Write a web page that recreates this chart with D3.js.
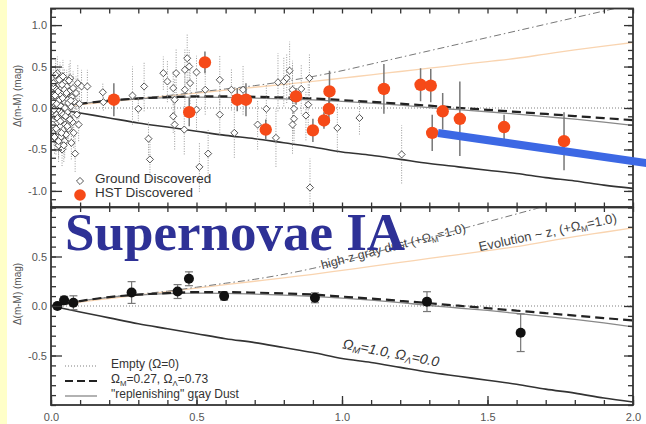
<!DOCTYPE html>
<html>
<head>
<meta charset="utf-8">
<script src="https://cdn.jsdelivr.net/npm/d3@7"></script>
<style>
  body { margin: 0; background: #fff; }
  svg { display: block; }
</style>
</head>
<body>
<svg id="chart" width="646" height="424"></svg>
<script>
// model curves (redshift vs delta distance modulus)
const modelZ      = [0, 0.1, 0.2, 0.3, 0.4, 0.5, 0.6, 0.7, 0.8, 0.9, 1.0, 1.1, 1.2, 1.3, 1.4, 1.5, 1.6, 1.7, 1.8, 1.9, 2.0];
const lambdaDM    = [0, 0.05, 0.09, 0.115, 0.13, 0.14, 0.14, 0.135, 0.127, 0.116, 0.095, 0.075, 0.052, 0.028, 0.003, -0.022, -0.047, -0.072, -0.097, -0.122, -0.146];
const replenishDM = [0, 0.05, 0.088, 0.11, 0.125, 0.13, 0.128, 0.12, 0.11, 0.097, 0.08, 0.06, 0.035, 0.005, -0.02, -0.045, -0.075, -0.105, -0.135, -0.17, -0.21];
const matterDM    = [0, -0.06, -0.12, -0.18, -0.23, -0.28, -0.33, -0.37, -0.42, -0.47, -0.53, -0.57, -0.62, -0.67, -0.71, -0.75, -0.79, -0.84, -0.88, -0.93, -0.97];
const grayDustDM  = [0, 0.05, 0.09, 0.12, 0.15, 0.19, 0.23, 0.27, 0.32, 0.38, 0.45, 0.53, 0.61, 0.69, 0.77, 0.85, 0.93, 1.01, 1.09, 1.17, 1.25];
const evolutionDM = [0, 0.04, 0.075, 0.11, 0.145, 0.18, 0.215, 0.25, 0.285, 0.32, 0.36, 0.40, 0.44, 0.48, 0.52, 0.56, 0.60, 0.65, 0.70, 0.745, 0.79];

// ground discovered SNe (open diamonds)
const groundZ = [0.005, 0.006, 0.007, 0.008, 0.009, 0.010, 0.011, 0.012, 0.013, 0.014, 0.015, 0.016, 0.017, 0.018, 0.019, 0.020,
  0.021, 0.022, 0.023, 0.024, 0.025, 0.026, 0.027, 0.028, 0.029, 0.030, 0.031, 0.032, 0.033, 0.034, 0.035, 0.036, 0.037, 0.038,
  0.039, 0.040, 0.041, 0.042, 0.043, 0.044, 0.045, 0.046, 0.047, 0.048, 0.049, 0.050, 0.052, 0.054, 0.056, 0.058, 0.060, 0.062,
  0.064, 0.066, 0.068, 0.070, 0.072, 0.074, 0.076, 0.078, 0.080, 0.083, 0.086, 0.089, 0.092, 0.095, 0.098,
  0.004, 0.006, 0.008, 0.010, 0.012, 0.014, 0.016, 0.018, 0.020, 0.022, 0.024, 0.026, 0.028, 0.030, 0.032, 0.034, 0.036,
  0.038, 0.040, 0.042, 0.044, 0.046, 0.048, 0.050, 0.053, 0.056, 0.059, 0.062, 0.065, 0.068,
  0.105, 0.125, 0.178, 0.18, 0.28, 0.30, 0.32, 0.335, 0.34, 0.386, 0.40, 0.43, 0.42, 0.425, 0.42, 0.425, 0.46, 0.468, 0.475,
  0.46, 0.478, 0.458, 0.50, 0.50, 0.53, 0.54, 0.51, 0.58, 0.58, 0.62, 0.63, 0.66, 0.71, 0.74, 0.773, 0.78, 0.80, 0.81, 0.82,
  0.83, 0.83, 0.835, 0.835, 0.83, 0.86, 0.876, 0.884, 0.888, 0.89, 0.984, 1.06, 1.205];
const groundDM = [0.02, -0.05, 0.12, -0.15, 0.25, -0.3, 0.05, -0.1, 0.18, -0.22, 0.32, 0.0, -0.38, 0.1, -0.08, 0.22,
  -0.18, 0.42, 0.03, -0.28, 0.14, -0.45, 0.08, -0.12, 0.28, -0.03, 0.35, -0.22, 0.16, -0.35, 0.06, -0.06, 0.24, -0.5,
  0.11, -0.15, 0.38, 0.01, -0.26, 0.19, -0.09, 0.3, -0.4, 0.07, -0.2, 0.15, -0.32, 0.26, -0.05, 0.1, -0.25, 0.2,
  -0.12, 0.36, 0.02, -0.42, 0.13, -0.17, 0.24, -0.3, 0.08, -0.55, 0.18, -0.08, 0.3, -0.2, 0.05,
  0.08, -0.2, 0.3, -0.02, -0.35, 0.15, 0.4, -0.25, 0.05, -0.12, 0.2, -0.4, 0.34, 0.1, -0.16, 0.02, -0.3,
  0.28, 0.12, -0.08, -0.45, 0.22, 0.0, -0.1, 0.18, -0.22, 0.06, 0.33, -0.14, 0.09,
  0.26, 0.26, 0.19, 0.07, 0.15, -0.01, 0.26, -0.37, -0.62, 0.42, 0.32, 0.42, 0.24, 0.10, -0.10, -0.20, 0.46, 0.60, 0.50,
  0.22, 0.30, -0.26, 0.43, -0.02, 0.22, -0.55, -0.71, 0.34, -0.08, 0.22, -0.30, 0.22, -0.20, -0.01, -0.36, 0.31, 0.32, 0.36, 0.45,
  0.22, 0.12, -0.01, -0.13, -0.2, 0.23, -0.09, 0.04, 0.36, -0.96, -0.24, -0.12, -0.56];
const groundErr = [0.1, 0.12, 0.15, 0.1, 0.18, 0.15, 0.1, 0.12, 0.15, 0.14, 0.2, 0.1, 0.18, 0.12, 0.1, 0.16,
  0.14, 0.2, 0.1, 0.16, 0.12, 0.2, 0.1, 0.14, 0.18, 0.1, 0.2, 0.15, 0.12, 0.18, 0.1, 0.12, 0.16, 0.2,
  0.12, 0.14, 0.2, 0.1, 0.16, 0.14, 0.12, 0.18, 0.2, 0.1, 0.15, 0.14, 0.18, 0.2, 0.12, 0.14, 0.18, 0.2,
  0.14, 0.22, 0.12, 0.2, 0.15, 0.16, 0.2, 0.18, 0.15, 0.22, 0.2, 0.15, 0.22, 0.2, 0.16,
  0.12, 0.15, 0.18, 0.1, 0.2, 0.14, 0.2, 0.16, 0.1, 0.12, 0.15, 0.2, 0.18, 0.12, 0.14, 0.1, 0.18,
  0.16, 0.12, 0.1, 0.2, 0.15, 0.12, 0.14, 0.16, 0.15, 0.12, 0.2, 0.14, 0.12,
  0.2, 0.2, 0.12, 0.1, 0.35, 0.15, 0.3, 0.2, 0.25, 0.2, 0.25, 0.3, 0.2, 0.25, 0.2, 0.3, 0.25, 0.3, 0.2,
  0.3, 0.25, 0.3, 0.2, 0.25, 0.3, 0.3, 0.3, 0.3, 0.25, 0.25, 0.3, 0.3, 0.3, 0.3, 0.35, 0.35, 0.3, 0.3, 0.35,
  0.35, 0.4, 0.3, 0.3, 0.35, 0.3, 0.3, 0.25, 0.3, 0.35, 0.3, 0.2, 0.35];

// HST discovered SNe (filled orange)
const hstZ   = [0.216, 0.475, 0.529, 0.64, 0.67, 0.738, 0.842, 0.90, 0.938, 0.955, 0.957, 1.144, 1.27, 1.305, 1.346, 1.31, 1.405, 1.557, 1.763];
const hstDM  = [0.10, -0.05, 0.55, 0.10, 0.10, -0.26, 0.14, -0.27, -0.15, -0.01, 0.20, 0.23, 0.28, 0.27, -0.04, -0.30, -0.13, -0.23, -0.40];
const hstErr = [0.2, 0.17, 0.13, 0.14, 0.2, 0.12, 0.1, 0.14, 0.1, 0.17, 0.25, 0.3, 0.2, 0.2, 0.22, 0.22, 0.45, 0.15, 0.35];

// binned points, lower panel
const binZ   = [0.022, 0.045, 0.077, 0.277, 0.435, 0.474, 0.595, 0.907, 1.292, 1.614];
const binDM  = [0.0, 0.057, 0.033, 0.136, 0.146, 0.275, 0.10, 0.083, 0.044, -0.27];
const binErr = [0.03, 0.04, 0.07, 0.11, 0.07, 0.07, 0.04, 0.05, 0.1, 0.19];

const topTicks = [-1.0, -0.5, 0.0, 0.5, 1.0];
const botTicks = [-0.5, 0.0, 0.5];
const xTicks = [0.0, 0.5, 1.0, 1.5, 2.0];

const svg = d3.select("#chart");
const x = d3.scaleLinear().domain([0, 2]).range([51, 633]);
const yTop = d3.scaleLinear().domain([-1.2, 1.2]).range([207.5, 8.5]);
const yBot = d3.scaleLinear().domain([-1, 1]).range([405, 207]);
const fmt = d => d.toFixed(1);
const font = "Liberation Sans, Arial, sans-serif";

// yellow slide strip on the left
svg.append("rect").attr("x", 0).attr("y", 0).attr("width", 7).attr("height", 424).attr("fill", "#ffffc8");

function clip(id, y) {
  svg.append("clipPath").attr("id", id).append("rect")
    .attr("x", x(0)).attr("y", y.range()[1]).attr("width", x(2) - x(0)).attr("height", y.range()[0] - y.range()[1]);
}
clip("clipTop", yTop);
clip("clipBot", yBot);

function drawCurves(g, y) {
  const line = vals => d3.line().x((d, i) => x(modelZ[i])).y(d => y(d)).curve(d3.curveMonotoneX)(vals);
  g.append("line").attr("x1", x(0)).attr("x2", x(2)).attr("y1", y(0)).attr("y2", y(0))
    .attr("stroke", "#aaa").attr("stroke-width", 1.3).attr("stroke-dasharray", "1,2");
  g.append("path").attr("d", line(evolutionDM)).attr("fill", "none").attr("stroke", "#f9d4b0").attr("stroke-width", 1.3);
  g.append("path").attr("d", line(grayDustDM)).attr("fill", "none").attr("stroke", "#777").attr("stroke-width", 1)
    .attr("stroke-dasharray", "7,3,1.5,3");
  g.append("path").attr("d", line(matterDM)).attr("fill", "none").attr("stroke", "#333").attr("stroke-width", 1.6);
  g.append("path").attr("d", line(replenishDM)).attr("fill", "none").attr("stroke", "#888").attr("stroke-width", 1.3);
  g.append("path").attr("d", line(lambdaDM)).attr("fill", "none").attr("stroke", "#222").attr("stroke-width", 2.2)
    .attr("stroke-dasharray", "9,5");
}

function drawAxes(y, majors, labels) {
  const minors = d3.range(Math.ceil(y.domain()[0] * 10), Math.floor(y.domain()[1] * 10) + 1).map(d => d / 10);
  const xMinors = d3.range(0, 21).map(d => d / 10);
  const style = g => {
    g.select(".domain").remove();
    g.selectAll("line").attr("stroke", "#333").attr("stroke-width", 1.3);
    g.selectAll("text").attr("font-family", font).attr("font-size", 11).attr("fill", "#555");
  };
  svg.append("g").attr("transform", `translate(${x(0)},0)`)
    .call(d3.axisLeft(y).tickValues(minors).tickSize(-5).tickFormat("")).call(style);
  svg.append("g").attr("transform", `translate(${x(0)},0)`)
    .call(d3.axisLeft(y).tickValues(majors).tickSize(-11).tickPadding(4).tickFormat(fmt)).call(style);
  svg.append("g").attr("transform", `translate(${x(2)},0)`)
    .call(d3.axisRight(y).tickValues(minors).tickSize(-5).tickFormat("")).call(style);
  svg.append("g").attr("transform", `translate(${x(2)},0)`)
    .call(d3.axisRight(y).tickValues(majors).tickSize(-9).tickFormat("")).call(style);
  svg.append("g").attr("transform", `translate(0,${y.range()[1]})`)
    .call(d3.axisTop(x).tickValues(xMinors).tickSize(-5).tickFormat("")).call(style);
  svg.append("g").attr("transform", `translate(0,${y.range()[0]})`)
    .call(d3.axisBottom(x).tickValues(xMinors).tickSize(-5).tickFormat("")).call(style);
  if (labels) {
    svg.append("g").attr("transform", `translate(0,${y.range()[0]})`)
      .call(d3.axisBottom(x).tickValues(xTicks).tickSize(-9).tickPadding(8).tickFormat(fmt)).call(style);
  }
  svg.append("rect").attr("x", x(0)).attr("y", y.range()[1]).attr("width", x(2) - x(0))
    .attr("height", y.range()[0] - y.range()[1]).attr("fill", "none").attr("stroke", "#333").attr("stroke-width", 1.8);
  svg.append("text").attr("transform", `translate(21,${y(0) - 12}) rotate(-90)`)
    .attr("text-anchor", "middle").attr("font-family", font).attr("font-size", 10).attr("fill", "#555")
    .text("\u0394(m-M) (mag)");
}

// ---- upper panel ----
const topPanel = svg.append("g").attr("clip-path", "url(#clipTop)");
drawCurves(topPanel, yTop);

const ground = groundZ.map((z, i) => ({z: z, dm: groundDM[i], err: groundErr[i]}));
topPanel.selectAll(".gErr").data(ground).enter().append("line")
  .attr("x1", d => x(d.z)).attr("x2", d => x(d.z))
  .attr("y1", d => yTop(d.dm - d.err)).attr("y2", d => yTop(d.dm + d.err))
  .attr("stroke", "#999").attr("stroke-width", 1).attr("stroke-dasharray", "1,1.5");
topPanel.selectAll(".gPt").data(ground).enter().append("path")
  .attr("d", d3.symbol(d3.symbolDiamond2, 32))
  .attr("transform", d => `translate(${x(d.z)},${yTop(d.dm)})`)
  .attr("fill", "#fff").attr("stroke", "#444").attr("stroke-width", 0.9);

const hst = hstZ.map((z, i) => ({z: z, dm: hstDM[i], err: hstErr[i]}));
topPanel.selectAll(".hErr").data(hst).enter().append("line")
  .attr("x1", d => x(d.z)).attr("x2", d => x(d.z))
  .attr("y1", d => yTop(d.dm - d.err)).attr("y2", d => yTop(d.dm + d.err))
  .attr("stroke", "#777").attr("stroke-width", 1.5);
topPanel.selectAll(".hPt").data(hst).enter().append("circle")
  .attr("cx", d => x(d.z)).attr("cy", d => yTop(d.dm)).attr("r", 6.2).attr("fill", "#f64a18");

// legend, upper panel
svg.append("path").attr("d", d3.symbol(d3.symbolDiamond2, 32)).attr("transform", "translate(80,181)")
  .attr("fill", "#fff").attr("stroke", "#444").attr("stroke-width", 0.9);
svg.append("circle").attr("cx", 80).attr("cy", 195).attr("r", 5.8).attr("fill", "#f64a18");
svg.append("text").attr("x", 95).attr("y", 182.5).attr("font-family", font).attr("font-size", 13.5).attr("fill", "#333")
  .text("Ground Discovered");
svg.append("text").attr("x", 95).attr("y", 197).attr("font-family", font).attr("font-size", 13.5).attr("fill", "#333")
  .text("HST Discovered");

drawAxes(yTop, topTicks, false);

// ---- lower panel ----
const botPanel = svg.append("g").attr("clip-path", "url(#clipBot)");
drawCurves(botPanel, yBot);

const bins = binZ.map((z, i) => ({z: z, dm: binDM[i], err: binErr[i]}));
const be = botPanel.selectAll(".bErr").data(bins).enter().append("g").attr("stroke", "#777").attr("stroke-width", 1.2);
be.append("line").attr("x1", d => x(d.z)).attr("x2", d => x(d.z))
  .attr("y1", d => yBot(d.dm - d.err)).attr("y2", d => yBot(d.dm + d.err));
be.append("line").attr("x1", d => x(d.z) - 4).attr("x2", d => x(d.z) + 4)
  .attr("y1", d => yBot(d.dm - d.err)).attr("y2", d => yBot(d.dm - d.err));
be.append("line").attr("x1", d => x(d.z) - 4).attr("x2", d => x(d.z) + 4)
  .attr("y1", d => yBot(d.dm + d.err)).attr("y2", d => yBot(d.dm + d.err));
botPanel.selectAll(".bPt").data(bins).enter().append("circle")
  .attr("cx", d => x(d.z)).attr("cy", d => yBot(d.dm)).attr("r", 5).attr("fill", "#111");

// curve labels
function omega(t, sub1, rest1, sub2, rest2) {
  t.append("tspan").text("\u03a9");
  t.append("tspan").attr("dy", 2.5).attr("font-size", "65%").text(sub1);
  t.append("tspan").attr("dy", -2.5).text(rest1);
  if (sub2) {
    t.append("tspan").text("\u03a9");
    t.append("tspan").attr("dy", 2.5).attr("font-size", "65%").text(sub2);
    t.append("tspan").attr("dy", -2.5).text(rest2);
  }
}
let t = svg.append("text").attr("transform", `translate(${x(1.18)},${yBot(0.56)}) rotate(-14.5)`)
  .attr("text-anchor", "middle").attr("font-family", font).attr("font-size", 12.5).attr("fill", "#444");
t.append("tspan").text("high-z gray dust (+");
omega(t, "M", "=1.0)");
t = svg.append("text").attr("transform", `translate(${x(1.71)},${yBot(0.70)}) rotate(-12)`)
  .attr("text-anchor", "middle").attr("font-family", font).attr("font-size", 13).attr("fill", "#444");
t.append("tspan").text("Evolution ~ z, (+");
omega(t, "M", "=1.0)");
t = svg.append("text").attr("transform", `translate(${x(1.165)},${yBot(-0.52)}) rotate(11)`)
  .attr("text-anchor", "middle").attr("font-family", font).attr("font-size", 14).attr("font-style", "italic").attr("fill", "#333");
omega(t, "M", "=1.0, ", "\u039b", "=0.0");

// legend, lower panel
const legend = [
  {label: "Empty (\u03a9=0)", stroke: "#aaa", w: 1.3, dash: "1,2"},
  {label: null, stroke: "#222", w: 2.2, dash: "8,4"},
  {label: "\"replenishing\" gray Dust", stroke: "#888", w: 1.3, dash: null}
];
legend.forEach((d, i) => {
  const ly = 366 + i * 15;
  svg.append("line").attr("x1", 65).attr("x2", 97).attr("y1", ly).attr("y2", ly)
    .attr("stroke", d.stroke).attr("stroke-width", d.w).attr("stroke-dasharray", d.dash);
  const lt = svg.append("text").attr("x", 111).attr("y", ly + 2).attr("font-family", font)
    .attr("font-size", 12).attr("fill", "#333");
  if (d.label) lt.text(d.label);
  else omega(lt, "M", "=0.27, ", "\u039b", "=0.73");
});

drawAxes(yBot, botTicks, true);

// slide overlay: title and blue pointer
svg.append("text").attr("x", 65).attr("y", 250).attr("font-family", "Liberation Serif, Times New Roman, serif")
  .attr("font-weight", "bold").attr("font-size", 53).attr("fill", "#2e3196").text("Supernovae IA");
svg.append("line").attr("x1", 438).attr("y1", 133).attr("x2", 660).attr("y2", 165)
  .attr("stroke", "#3c68e4").attr("stroke-width", 8);
</script>
</body>
</html>
